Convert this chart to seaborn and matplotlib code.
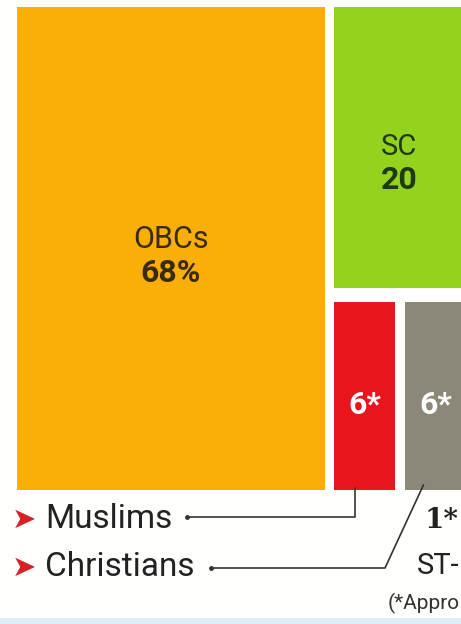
import matplotlib
matplotlib.use("Agg")
import matplotlib.pyplot as plt
import matplotlib.patches as mpatches
import seaborn as sns

# -------------------------
# data
# -------------------------
groups = ["OBCs", "SC", "Muslims", "Christians", "ST"]
shares = [68, 20, 6, 6, 1]
value_labels = ["68%", "20", "6*", "6*", "1*"]
colors = ["#F9AE08", "#93D31E", "#E8161C", "#8C8879", "#8C8879"]

sns.set_theme(style="white")
plt.rcParams["font.family"] = ["Roboto", "DejaVu Sans"]

fig = plt.figure(figsize=(4.61, 6.24), dpi=100)
ax = fig.add_axes([0, 0, 1, 1])
ax.set_xlim(0, 461)
ax.set_ylim(624, 0)
ax.axis("off")
fig.patch.set_facecolor("#FFFFFD")

# -------------------------
# simple slice-and-dice treemap
# -------------------------
x0, y0, W, H, gap = 17, 7, 471, 493, 9
total = sum(shares)
rest = total - shares[0]
w_big = W * shares[0] / total
rects = {}
rects["OBCs"] = (x0, y0, w_big - gap, H - gap - 1)
xr = x0 + w_big
wr = W - w_big
h_sc = H * shares[1] / rest * 0.97
rects["SC"] = (xr, y0, wr, h_sc - gap)
yb = y0 + h_sc + 5
bottom = shares[2:]
xc = xr
for g, s in zip(groups[2:], bottom):
    w = wr * s / sum(bottom)
    rects[g] = (xc, yb, w - gap - 1, y0 + H - gap - 1 - yb)
    xc += w

for g, c in zip(groups, colors):
    x, y, w, h = rects[g]
    ax.add_patch(mpatches.Rectangle((x, y), w, h, facecolor=c, edgecolor="none"))

# labels inside boxes
x, y, w, h = rects["OBCs"]
ax.text(x + w / 2, 240, groups[0], ha="center", va="center", fontsize=22, color="#3a2a10")
ax.text(x + w / 2, 273, value_labels[0], ha="center", va="center", fontsize=23,
        fontweight="bold", color="#3a2a10")
x, y, w, h = rects["SC"]
ax.text(399, 147, groups[1], ha="center", va="center", fontsize=21, color="#1f3a10")
ax.text(399, 180, value_labels[1], ha="center", va="center", fontsize=23,
        fontweight="bold", color="#1f3a10")
for g, lab in zip(groups[2:4], value_labels[2:4]):
    x, y, w, h = rects[g]
    ax.text(x + w / 2, 405, lab, ha="center", va="center", fontsize=23,
            fontweight="bold", color="white")

# callouts
ax.text(12, 520, "➤", ha="left", va="center", fontsize=21, color="#D42228",
        family="DejaVu Sans")
ax.text(45, 519, groups[2], ha="left", va="center", fontsize=24, color="#222222")
ax.text(12, 568, "➤", ha="left", va="center", fontsize=21, color="#D42228",
        family="DejaVu Sans")
ax.text(45, 567, groups[3], ha="left", va="center", fontsize=24, color="#222222")

mx = rects["Muslims"][0] + rects["Muslims"][2] * 0.35
ax.plot([187, mx, mx], [517, 517, 488], color="#333333", lw=1.2)
ax.plot([187], [517], marker="o", ms=2.5, color="#333333")
cx = rects["Christians"][0] + rects["Christians"][2] * 0.3
ax.plot([211, 385, cx], [568, 568, 485], color="#333333", lw=1.2)
ax.plot([211], [568], marker="o", ms=2.5, color="#333333")

ax.text(459, 521, value_labels[4], ha="right", va="center", fontsize=20,
        fontweight="bold", color="#222222", family="DejaVu Serif")
ax.text(460, 566, groups[4] + "-", ha="right", va="center", fontsize=21, color="#222222")
ax.text(460, 603, "(*Appro", ha="right", va="center", fontsize=15, color="#333333")

ax.axhline(621, color="#DCEFF8", lw=5)

fig.savefig("out.png", dpi=100)
